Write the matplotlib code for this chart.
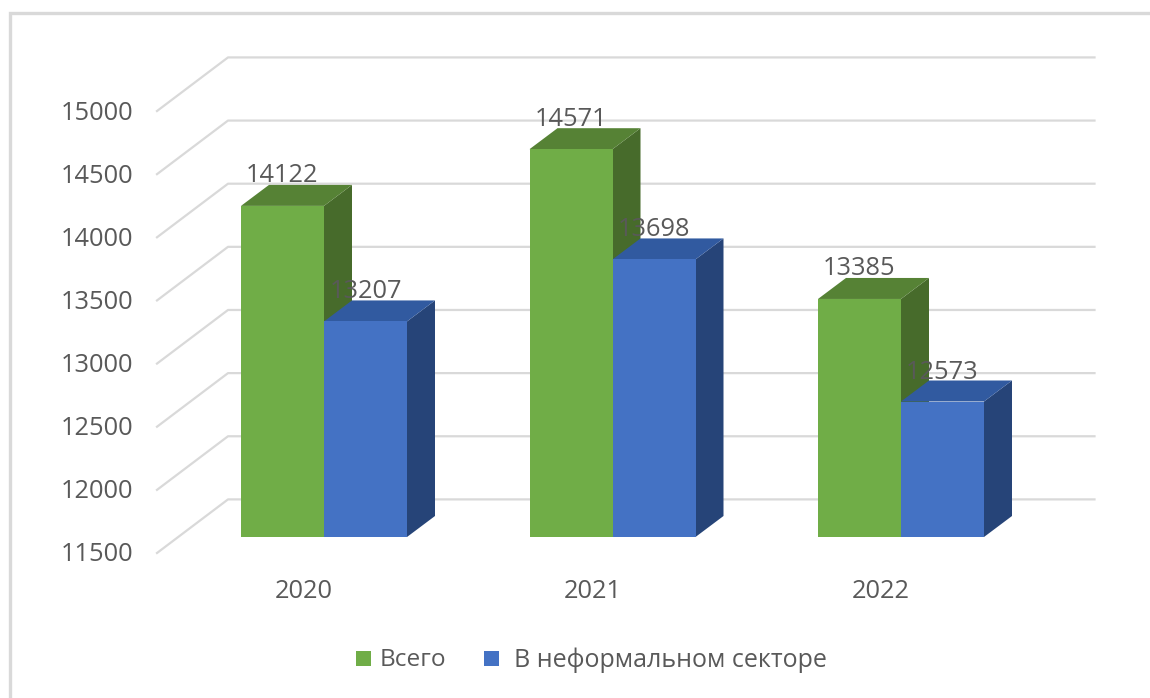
import matplotlib
matplotlib.use("Agg")
import matplotlib.pyplot as plt

plt.rcParams['font.family'] = ['Open Sans', 'DejaVu Sans']

years = ['2020', '2021', '2022']
total = [14122, 14571, 13385]
informal = [13207, 13698, 12573]
series_names = ['Всего', 'В неформальном секторе']
y_ticks = [11500, 12000, 12500, 13000, 13500, 14000, 14500, 15000]

W, H = 1150, 698
TEXT = '#595959'
GRID = '#D9D9D9'
FACE = {'g': ('#70AD47', '#568235', '#476B2B'), 'b': ('#4472C4', '#315AA0', '#264478')}

fig = plt.figure(figsize=(W / 100, H / 100), dpi=100)
ax = fig.add_axes([0, 0, 1, 1])

# Data scale of the plane holding the bar fronts (category units / values)
PX_CAT = 288.5
PX_VAL = 63.14 / 500
X0_PX, Y0_PX = 324, 537   # pixel of category 0 and of the base value
BASE = y_ticks[0]
ax.set_xlim(-X0_PX / PX_CAT, (W - X0_PX) / PX_CAT)
ax.set_ylim(BASE - (H - Y0_PX) / PX_VAL, BASE + Y0_PX / PX_VAL)
ax.axis('off')


def shift(x, v, dx_px=0, dy_px=0):
    """Oblique projection: move a data point by a screen offset (y up)."""
    return x + dx_px / PX_CAT, v + dy_px / PX_VAL


BAR_W = 83 / PX_CAT
DX, DY = 28, 21          # bar depth
WALL_F = (-21, -16)      # front of the floor relative to the bar plane
WALL_B = (50, 37.6)      # back wall relative to the bar plane
LEFT_CAT = (178 - X0_PX) / PX_CAT
RIGHT_PX = 1094.5

# Frame (top and left only are visible)
ax.plot([10 / W, 10 / W, 1], [0, 1 - 13 / H, 1 - 13 / H], transform=ax.transAxes,
        color=GRID, lw=2.4, clip_on=False, solid_joinstyle='miter', zorder=1)

# Gridlines
for t in y_ticks:
    p0 = shift(LEFT_CAT, t, *WALL_F)
    p1 = shift(LEFT_CAT, t, *WALL_B)
    p2 = shift((RIGHT_PX - WALL_B[0] - X0_PX) / PX_CAT, t, *WALL_B)
    ax.plot([p0[0], p1[0], p2[0]], [p0[1], p1[1], p2[1]], color=GRID, lw=1.6, zorder=2)
    ax.annotate(f'{t}', xy=p0, xytext=(-24, -2), textcoords='offset pixels', ha='right',
                va='center', fontsize=18.3, color=TEXT, zorder=3)


def box(x_left, value, colors, z):
    xr = x_left + BAR_W
    front, top, side = colors
    # side
    a = shift(xr, BASE, DX, DY)
    b = shift(xr, value, DX, DY)
    ax.fill([xr, a[0], b[0], xr], [BASE, a[1], b[1], value], color=side, lw=0, zorder=z)
    # top
    c = shift(x_left, value, DX, DY)
    ax.fill([x_left, xr, b[0], c[0]], [value, value, b[1], c[1]], color=top, lw=0, zorder=z)
    # front
    ax.fill([x_left, xr, xr, x_left], [BASE, BASE, value, value], color=front, lw=0, zorder=z + 0.1)


for i, (a, b) in enumerate(zip(total, informal)):
    box(i - BAR_W, a, FACE['g'], 4)
    box(i, b, FACE['b'], 5)

# Labels on top of everything
for i, (a, b) in enumerate(zip(total, informal)):
    ax.annotate(f'{a}', xy=(i - BAR_W / 2, a), xytext=(0, 30), textcoords='offset pixels',
                ha='center', va='center', fontsize=18.3, color=TEXT, zorder=8)
    ax.annotate(f'{b}', xy=(i + BAR_W / 2, b), xytext=(0, 29.5), textcoords='offset pixels',
                ha='center', va='center', fontsize=18.3, color=TEXT, zorder=8)
    ax.annotate(years[i], xy=(i, BASE), xytext=(-20, -55), textcoords='offset pixels',
                ha='center', va='center', fontsize=18.3, color=TEXT, zorder=8)

# Legend
LEG_Y = 1 - 658.5 / H
for (x_sq, x_txt, name, key, fs) in [(356, 380, series_names[0], 'g', 17.6),
                                     (484, 514, series_names[1], 'b', 18.0)]:
    ax.add_patch(plt.Rectangle((x_sq / W, LEG_Y - 7.5 / H), 15 / W, 15 / H, transform=ax.transAxes,
                               color=FACE[key][0], lw=0, zorder=8))
    ax.annotate(name, xy=(x_txt / W, LEG_Y), xycoords='axes fraction', xytext=(0, -2),
                textcoords='offset pixels', ha='left', va='center',
                fontsize=fs, color=TEXT, zorder=8)

fig.savefig('out.png', dpi=100, facecolor='white')
